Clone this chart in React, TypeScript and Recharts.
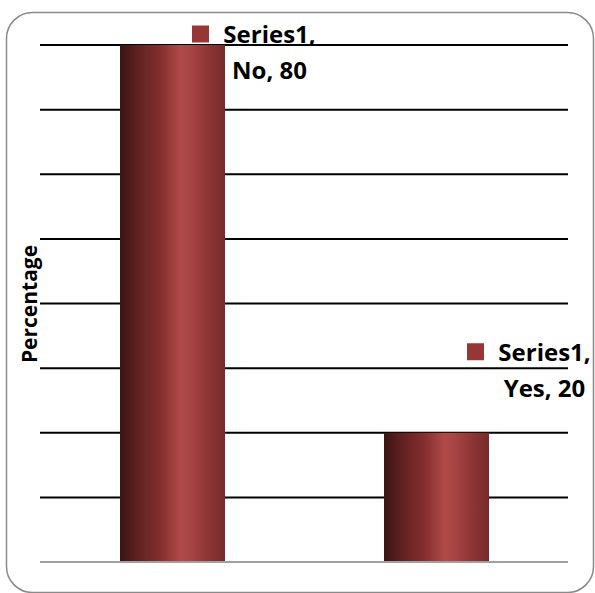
import React from "react";
import { BarChart, Bar, XAxis, YAxis, CartesianGrid, LabelList, ReferenceLine } from "recharts";

// Survey answers (percentage of respondents)
const categories = ["No", "Yes"];
const seriesName = "Series1";
const values = [80, 20];
const yTicks = [0, 10, 20, 30, 40, 50, 60, 70, 80];
const axisTitle = "Percentage";

const data = categories.map((c, i) => ({ category: c, value: values[i] }));

const W = 595;
const H = 593;
const FONT = "'Open Sans', Lato, sans-serif";
const MARKER = "#953735";

// Hand-placed offsets of each data-label block relative to its bar
const labelOffsets = [
  { dx: 44.5, dy: -2 },
  { dx: 55.5, dy: -72 },
];

const DataLabel = (props: any) => {
  const { x, y, width, index, value } = props;
  const off = labelOffsets[index] || { dx: 40, dy: -2 };
  const cx = x + width + off.dx;
  const base = y + off.dy;
  const style = { fontFamily: FONT, fontWeight: 700, fontSize: 24 };
  return (
    <g>
      <rect x={cx - 77.5} y={base - 17.5} width={17} height={17} fill={MARKER} />
      <text x={cx} y={base} textAnchor="middle" fill="#000" style={style}>
        {`${seriesName},`}
      </text>
      <text x={cx} y={base + 36} textAnchor="middle" fill="#000" style={style}>
        {`${categories[index]}, ${value}`}
      </text>
    </g>
  );
};

export default function App() {
  return (
    <div style={{ position: "absolute", left: 0, top: 0, width: W, height: H, background: "#fff" }}>
      <BarChart
        width={W}
        height={H}
        data={data}
        margin={{ top: 45, right: 27, bottom: 31, left: 40 }}
        barSize={105}
      >
        <defs>
          <linearGradient id="barShade" x1="0" y1="0" x2="1" y2="0">
            <stop offset="0%" stopColor="#3a1414" />
            <stop offset="18%" stopColor="#622222" />
            <stop offset="38%" stopColor="#842e2e" />
            <stop offset="58%" stopColor="#b04a49" />
            <stop offset="68%" stopColor="#a64444" />
            <stop offset="85%" stopColor="#8c3434" />
            <stop offset="100%" stopColor="#772a2a" />
          </linearGradient>
        </defs>
        <CartesianGrid
          vertical={false}
          horizontalValues={yTicks.slice(1)}
          stroke="#000"
          strokeWidth={2}
        />
        <XAxis dataKey="category" hide />
        <YAxis domain={[0, 80]} ticks={yTicks} hide />
        <Bar dataKey="value" fill="url(#barShade)" isAnimationActive={false}>
          <LabelList dataKey="value" content={DataLabel} />
        </Bar>
        <ReferenceLine y={0} stroke="#a0a0a0" strokeWidth={2} />
      </BarChart>
      <svg
        width={W}
        height={H}
        style={{ position: "absolute", left: 0, top: 0, pointerEvents: "none" }}
      >
        <rect x={6.5} y={12.5} width={587} height={580} rx={26} fill="none" stroke="#8a8a8a" strokeWidth={1.5} />
        <text
          x={37}
          y={304}
          transform="rotate(-90, 37, 304)"
          textAnchor="middle"
          fill="#000"
          style={{ fontFamily: FONT, fontWeight: 700, fontSize: 21 }}
        >
          {axisTitle}
        </text>
      </svg>
    </div>
  );
}
